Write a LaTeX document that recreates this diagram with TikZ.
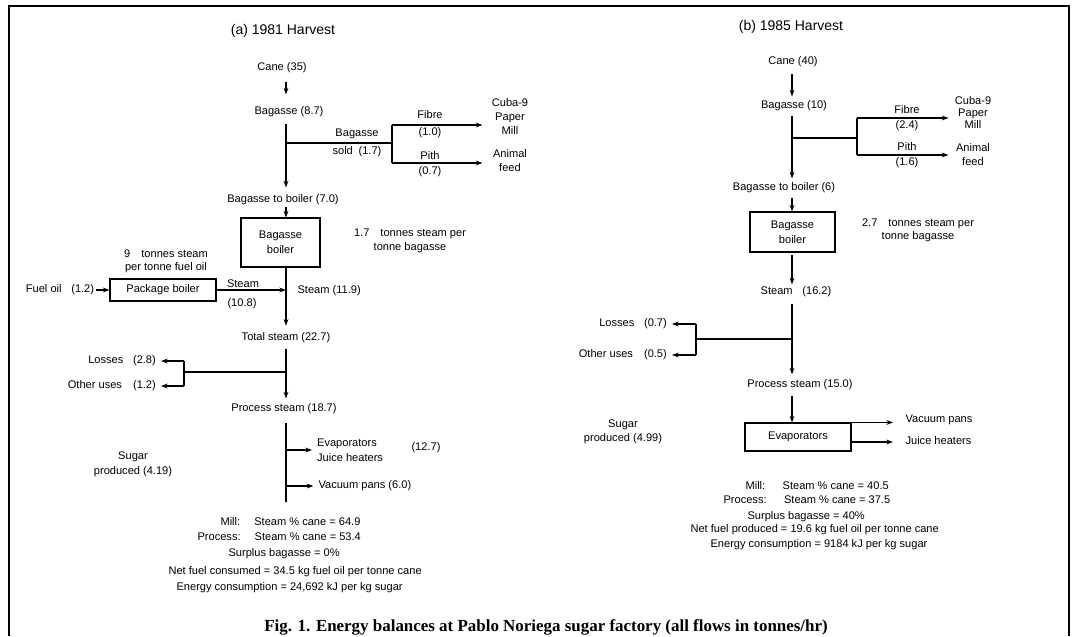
\documentclass[tikz,border=0pt]{standalone}
\usepackage{fontspec}
\setmainfont{Liberation Sans}
\newfontfamily\capfont{Liberation Serif}
\usetikzlibrary{calc,arrows.meta}

\tikzset{
  lbl/.style={inner sep=1pt, font=\fontsize{8.3}{9.6}\selectfont, text height=6pt, text depth=1.6pt},
  note/.style={inner sep=1pt, font=\fontsize{8.3}{#1}\selectfont, align=center},
  note/.default=10.5pt,
  head/.style={inner sep=1pt, font=\fontsize{10.5}{12}\selectfont},
  blk/.style={draw, inner sep=0pt, align=center, font=\fontsize{8.3}{11.25}\selectfont},
  flow/.style={-{Stealth[length=5pt,width=3.6pt]}},
}

\begin{document}
\begin{tikzpicture}[x=0.75pt, y=-0.75pt, line width=0.8pt]

    % Bingkai luar
    \useasboundingbox (0,0) rectangle (1077,636);
    \draw[line width=1.5pt] (9,636) -- (9,6) -- (1069,6) -- (1069,636);

    % ===== (a) 1981 Harvest =====
    \coordinate (axA) at (286,0);
    \node[head] (titA) at (283,31) {(a) 1981 Harvest};
    \node[lbl] (caneA) at (282,68) {Cane (35)};
    \node[lbl] (bagA) at (289,112) {Bagasse (8.7)};
    \node[lbl] (btbA) at (283,200) {Bagasse to boiler (7.0)};
    \draw[flow, shorten <=5pt, shorten >=8pt] (caneA.south -| axA) -- (bagA.north -| axA);
    \draw[flow, shorten <=3.5pt, shorten >=4.2pt] (bagA.south -| axA) -- (btbA.north -| axA);

    % Bagasse sold ke pabrik kertas dan pakan
    \coordinate (jA) at (286,143);
    \coordinate (sA) at (392,143);
    \coordinate (fA) at (392,125);
    \coordinate (pA) at (392,163);
    \draw (jA) -- (sA);
    \draw (fA) -- (pA);
    \node[note=13.5pt] (soldA) at (357,143) {Bagasse\\sold\hspace{2pt} (1.7)};
    \node[note=12.75pt] (fibA) at (430,124.5) {Fibre\\(1.0)};
    \node[note=11.25pt] (pitA) at (430,164.5) {Pith\\(0.7)};
    \node[note=10.5pt, text width=28pt] (cubaA) at (510,116) {Cuba-9\\Paper\\Mill};
    \node[note=10.5pt, text width=28pt] (animA) at (510,161) {Animal\\feed};
    \draw[flow, shorten >=5.3pt] (fA) -- (fA -| cubaA.west);
    \draw[flow, shorten >=5.3pt] (pA) -- (pA -| animA.west);

    % Ketel bagasse dan ketel paket
    \node[blk, minimum width=59.25pt, minimum height=36.75pt] (boilA) at (280.5,242.5) {Bagasse\\boiler};
    \draw[flow] (btbA.south -| axA) -- (boilA.north -| axA);
    \node[note=10.5pt] (ratA) at (410,241) {1.7\hspace{6pt} tonnes steam per\\tonne bagasse};
    \node[note=9.75pt] (ratA2) at (166,261.5) {9\hspace{6pt} tonnes steam\\per tonne fuel oil};
    \node[blk, minimum width=79.5pt, minimum height=16.5pt] (pkgA) at (163,290) {Package boiler};
    \node[lbl] (fuelA) at (60,290) {Fuel oil\hspace{5pt} (1.2)};
    \draw[flow] (fuelA.east) -- (pkgA.west);
    \coordinate (mA) at (286,290);
    \draw[flow] (pkgA.east) -- (mA);
    \node[lbl] (stA1) at (243,285) {Steam};
    \node[lbl] (stA2) at (242,304) {(10.8)};
    \node[lbl, anchor=west] (stA3) at (295.7,291) {Steam (11.9)};

    % Uap total dan kehilangan
    \node[lbl] (totA) at (286,338) {Total steam (22.7)};
    \node[lbl] (psA) at (284,409) {Process steam (18.7)};
    \draw[flow, shorten >=4pt] (boilA.south -| axA) -- (totA.north -| axA);
    \draw[flow, shorten <=2.7pt, shorten >=2.7pt] (totA.south -| axA) -- (psA.north -| axA);
    \coordinate (jA2) at (286,372);
    \coordinate (kA) at (184,372);
    \coordinate (lA) at (184,361);
    \coordinate (oA) at (184,386);
    \draw (jA2) -- (kA);
    \draw (lA) -- (oA);
    \node[lbl, anchor=east] (lossA) at (157.7,361) {Losses\hspace{5pt} (2.8)};
    \node[lbl, anchor=east] (othA) at (157.7,386) {Other uses\hspace{6pt} (1.2)};
    \draw[flow, shorten >=2.5pt] (lA) -- (lossA.east);
    \draw[flow, shorten >=2.5pt] (oA) -- (othA.east);

    % Pemakai uap proses
    \coordinate (eA) at (286,502);
    \coordinate (evA) at (286,450);
    \coordinate (vpA) at (286,486);
    \draw[shorten <=5pt] (psA.south -| axA) -- (eA);
    \node[note=11.25pt, align=left, anchor=west] (evapA) at (315.3,450.5) {Evaporators\\Juice heaters};
    \node[lbl] (juA) at (426,448) {(12.7)};
    \node[lbl, anchor=west] (vacA) at (316.7,486) {Vacuum pans (6.0)};
    \draw[flow, shorten >=2.5pt] (evA) -- (evA -| evapA.west);
    \draw[flow, shorten >=2.5pt] (vpA) -- (vacA.west);
    \node[note=11.25pt] (sugA) at (133,464.5) {Sugar\\produced (4.19)};

    % Ringkasan (a)
    \node[lbl, anchor=west] (millA) at (218.7,523) {Mill:\hspace{7.5pt} Steam \% cane = 64.9};
    \node[lbl, anchor=west] (procA) at (195.7,538) {Process:\hspace{7.5pt} Steam \% cane = 53.4};
    \node[lbl, anchor=west] (surA) at (226.7,554) {Surplus bagasse = 0\%};
    \node[lbl, anchor=west] (netA) at (166.7,572) {Net fuel consumed = 34.5 kg fuel oil per tonne cane};
    \node[lbl, anchor=west] (engA) at (174.7,588) {Energy consumption = 24,692 kJ per kg sugar};

    % ===== (b) 1985 Harvest =====
    \coordinate (axB) at (792,0);
    \node[head] (titB) at (791,27) {(b) 1985 Harvest};
    \node[lbl] (caneB) at (793,62) {Cane (40)};
    \node[lbl] (bagB) at (794,106) {Bagasse (10)};
    \node[lbl] (btbB) at (784,188) {Bagasse to boiler (6)};
    \draw[flow, shorten <=3.5pt, shorten >=2pt] (caneB.south -| axB) -- (bagB.north -| axB);
    \draw[flow, shorten <=2pt, shorten >=2pt] (bagB.south -| axB) -- (btbB.north -| axB);

    % Bagasse ke pabrik kertas dan pakan
    \coordinate (jB) at (792,138);
    \coordinate (sB) at (857,138);
    \coordinate (fB) at (857,118);
    \coordinate (pB) at (857,155);
    \draw (jB) -- (sB);
    \draw (fB) -- (pB);
    \node[note=11.25pt] (fibB) at (907,118.5) {Fibre\\(2.4)};
    \node[note=11.25pt] (pitB) at (907,155.5) {Pith\\(1.6)};
    \node[note=9pt, text width=28pt] (cubaB) at (973,112) {Cuba-9\\Paper\\Mill};
    \node[note=10.5pt, text width=28pt] (animB) at (973,155) {Animal\\feed};
    \draw[flow, shorten >=3pt] (fB) -- (fB -| cubaB.west);
    \draw[flow, shorten >=3pt] (pB) -- (pB -| animB.west);

    % Ketel bagasse
    \node[blk, minimum width=63.75pt, minimum height=30pt] (boilB) at (792.5,232) {Bagasse\\boiler};
    \draw[flow, shorten <=2pt] (btbB.south -| axB) -- (boilB.north -| axB);
    \node[note=9.75pt] (ratB) at (918,230.5) {2.7\hspace{6pt} tonnes steam per\\tonne bagasse};
    \node[lbl] (stB) at (796,292) {Steam\hspace{5pt} (16.2)};
    \node[lbl] (psB) at (800,385) {Process steam (15.0)};
    \draw[flow, shorten <=2.2pt, shorten >=0.5pt] (boilB.south -| axB) -- (stB.north -| axB);
    \draw[flow, shorten <=3.5pt, shorten >=2.7pt] (stB.south -| axB) -- (psB.north -| axB);

    % Kehilangan uap
    \coordinate (jB2) at (792,339);
    \coordinate (kB) at (696,339);
    \coordinate (lB) at (696,324);
    \coordinate (oB) at (696,355);
    \draw (jB2) -- (kB);
    \draw (lB) -- (oB);
    \node[lbl, anchor=east] (lossB) at (668.7,324) {Losses\hspace{5pt} (0.7)};
    \node[lbl, anchor=east] (othB) at (668.7,355) {Other uses\hspace{6pt} (0.5)};
    \draw[flow, shorten >=2.5pt] (lB) -- (lossB.east);
    \draw[flow, shorten >=2.5pt] (oB) -- (othB.east);

    % Evaporator
    \node[blk, minimum width=79.5pt, minimum height=21pt] (evapB) at (798,437) {Evaporators};
    \draw[flow, shorten <=2.7pt] (psB.south -| axB) -- (evapB.north -| axB);
    \node[lbl, anchor=west] (vacB) at (903.7,420) {Vacuum pans};
    \node[lbl, anchor=west] (juiB) at (903.7,442) {Juice heaters};
    \draw[flow, shorten >=8pt] (evapB.north east) -- (evapB.north east -| vacB.west);
    \draw[flow, shorten >=8pt] (evapB.east |- juiB) -- (juiB.west);
    \node[note=10.5pt] (sugB) at (623,432) {Sugar\\produced (4.99)};

    % Ringkasan (b)
    \node[lbl, anchor=west] (millB) at (743.7,487) {Mill:\hspace{10pt} Steam \% cane = 40.5};
    \node[lbl, anchor=west] (procB) at (721.7,501) {Process:\hspace{10pt} Steam \% cane = 37.5};
    \node[lbl, anchor=west] (surB) at (745.7,517) {Surplus bagasse = 40\%};
    \node[lbl, anchor=west] (netB) at (688.7,530) {Net fuel produced = 19.6 kg fuel oil per tonne cane};
    \node[lbl, anchor=west] (engB) at (708.7,545) {Energy consumption = 9184 kJ per kg sugar};

    % Judul gambar
    \node[inner sep=0pt, font={\fontsize{12.7}{14}\capfont\bfseries}] (capt) at (546,627)
        {Fig. 1. Energy balances at Pablo Noriega sugar factory (all flows in tonnes/hr)};

\end{tikzpicture}
\end{document}
